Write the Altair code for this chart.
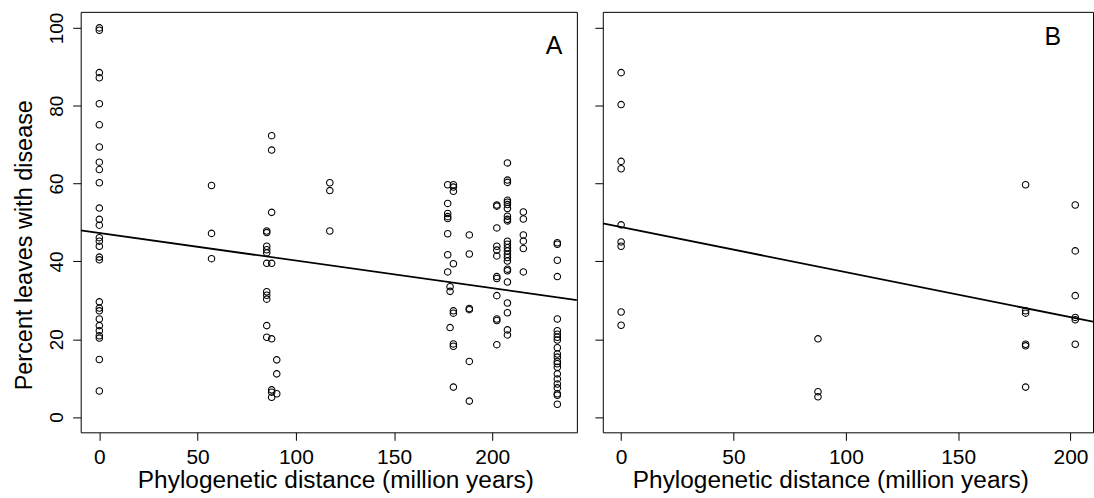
import altair as alt
import pandas as pd

# ---------- Panel A data ----------
a_dist = [0, 57.1, 85.2, 87.7, 90.3, 117.3, 177.3, 178.5, 180.2, 188.3,
          202.3, 207.7, 215.8, 233.1]
a_pct = [
    [100, 99.4, 88.5, 87.2, 80.5, 75.1, 69.4, 65.5, 63.6, 60.2, 53.7, 50.8, 49.3,
     46.1, 45.2, 43.9, 41.1, 40.4, 29.6, 28.0, 27.3, 25.2, 23.5, 22.2, 20.9, 20.3,
     14.8, 6.7],
    [59.5, 47.2, 40.7],
    [47.8, 47.4, 43.9, 43.0, 42.2, 39.5, 32.2, 31.3, 30.3, 23.5, 20.5],
    [72.3, 68.6, 52.6, 39.5, 20.1, 7.0, 6.4, 5.1],
    [14.7, 11.1, 6.0],
    [60.2, 58.2, 47.8],
    [59.7, 54.9, 52.3, 51.5, 51.0, 47.1, 41.7, 37.3],
    [33.5, 32.3, 23.0],
    [59.7, 59.1, 58.0, 39.4, 27.3, 26.7, 18.8, 18.2, 7.7],
    [46.8, 41.9, 27.9, 27.6, 14.3, 4.1],
    [54.5, 54.2, 48.6, 43.9, 42.9, 41.4, 36.1, 35.6, 31.2, 25.2, 24.8, 18.6],
    [65.3, 60.9, 60.3, 55.7, 55.2, 54.6, 53.6, 51.6, 50.8, 50.4, 45.2, 44.4, 43.5,
     42.7, 41.8, 41.0, 40.1, 38.0, 37.6, 34.7, 29.3, 26.8, 22.4, 21.1],
    [52.7, 50.9, 46.8, 45.2, 43.3, 37.3],
    [44.8, 44.4, 40.3, 36.1, 25.2, 22.2, 21.3, 20.5, 19.8, 17.8, 16.2, 15.4, 14.3,
     13.7, 12.8, 11.1, 9.8, 8.5, 7.5, 6.0, 5.6, 3.3],
]
a_fit = [47.3, -0.0709]          # intercept, slope
a_xdom = [-9.48, 243.05]

# ---------- Panel B data ----------
b_dist = [0, 87.6, 180.0, 202.1]
b_pct = [
    [88.5, 80.3, 65.7, 63.8, 49.4, 45.0, 43.9, 27.0, 23.6],
    [20.1, 6.5, 5.2],
    [59.7, 27.3, 26.7, 18.7, 18.3, 7.7],
    [54.5, 42.7, 31.2, 25.6, 25.0, 18.7],
]
b_fit = [48.8, -0.1157]
b_xdom = [-8.16, 210.0]

ydom = [-3.92, 104.12]
x_ticks = [0, 50, 100, 150, 200]
y_ticks = [0, 20, 40, 60, 80, 100]
x_title = "Phylogenetic distance (million years)"
y_title = "Percent leaves with disease"

FONT = "Liberation Sans"


def panel(dist, pct, fit, xdom, width, letter, letter_pos, first, title_x):
    pts = pd.DataFrame(
        [(d, v) for d, vals in zip(dist, pct) for v in vals], columns=["d", "p"]
    )
    line = pd.DataFrame({"d": xdom, "p": [fit[0] + fit[1] * v for v in xdom]})
    lab = pd.DataFrame({"d": [letter_pos[0]], "p": [letter_pos[1]], "t": [letter]})

    xaxis = alt.Axis(
        values=x_ticks, title=x_title, labelFontSize=21, labelPadding=6,
        titleFontSize=24.5, titleFontWeight="normal", titleX=title_x, titleY=55.5,
        titleBaseline="alphabetic", titleAlign="center",
    )
    if first:
        yaxis = alt.Axis(
            values=y_ticks, title=y_title, labelAngle=270, labelAlign="center",
            labelBaseline="bottom", labelFontSize=19, labelPadding=6,
            titleFontSize=23.5, titleFontWeight="normal", titleX=-68, titleY=233.7,
            titleBaseline="top", titleAlign="center", titleAngle=270,
        )
    else:
        yaxis = alt.Axis(values=y_ticks, title=None, labels=False)

    x = alt.X("d:Q", scale=alt.Scale(domain=xdom, nice=False, zero=False), axis=xaxis)
    y = alt.Y("p:Q", scale=alt.Scale(domain=ydom, nice=False, zero=False), axis=yaxis)

    p_layer = alt.Chart(pts).mark_point(
        shape="circle", filled=False, color="black", size=42, strokeWidth=1.1, opacity=1
    ).encode(x=x, y=y)
    l_layer = alt.Chart(line).mark_line(color="black", strokeWidth=1.8, clip=True).encode(
        x="d:Q", y="p:Q"
    )
    t_layer = alt.Chart(lab).mark_text(
        fontSize=25, font=FONT, color="black", align="center", baseline="middle"
    ).encode(x="d:Q", y="p:Q", text="t:N")
    return alt.layer(p_layer, l_layer, t_layer).properties(width=width, height=422)


left = panel(a_dist, a_pct, a_fit, a_xdom, 498, "A", (231.4, 95.4), True, 255.6)
right = panel(b_dist, b_pct, b_fit, b_xdom, 492, "B", (192.1, 97.6), False, 228.4)

chart = (
    alt.hconcat(left, right, spacing=16)
    .properties(padding={"left": 12, "top": 10, "right": 0, "bottom": 0}, background="white")
    .configure_axis(
        grid=False, domain=False, tickColor="black", tickSize=8, tickWidth=1,
        labelColor="black", titleColor="black", labelFont=FONT, titleFont=FONT,
    )
    .configure_view(stroke="black", strokeWidth=1)
)

chart.save("out.html", embed_options={"renderer": "svg", "actions": False})
